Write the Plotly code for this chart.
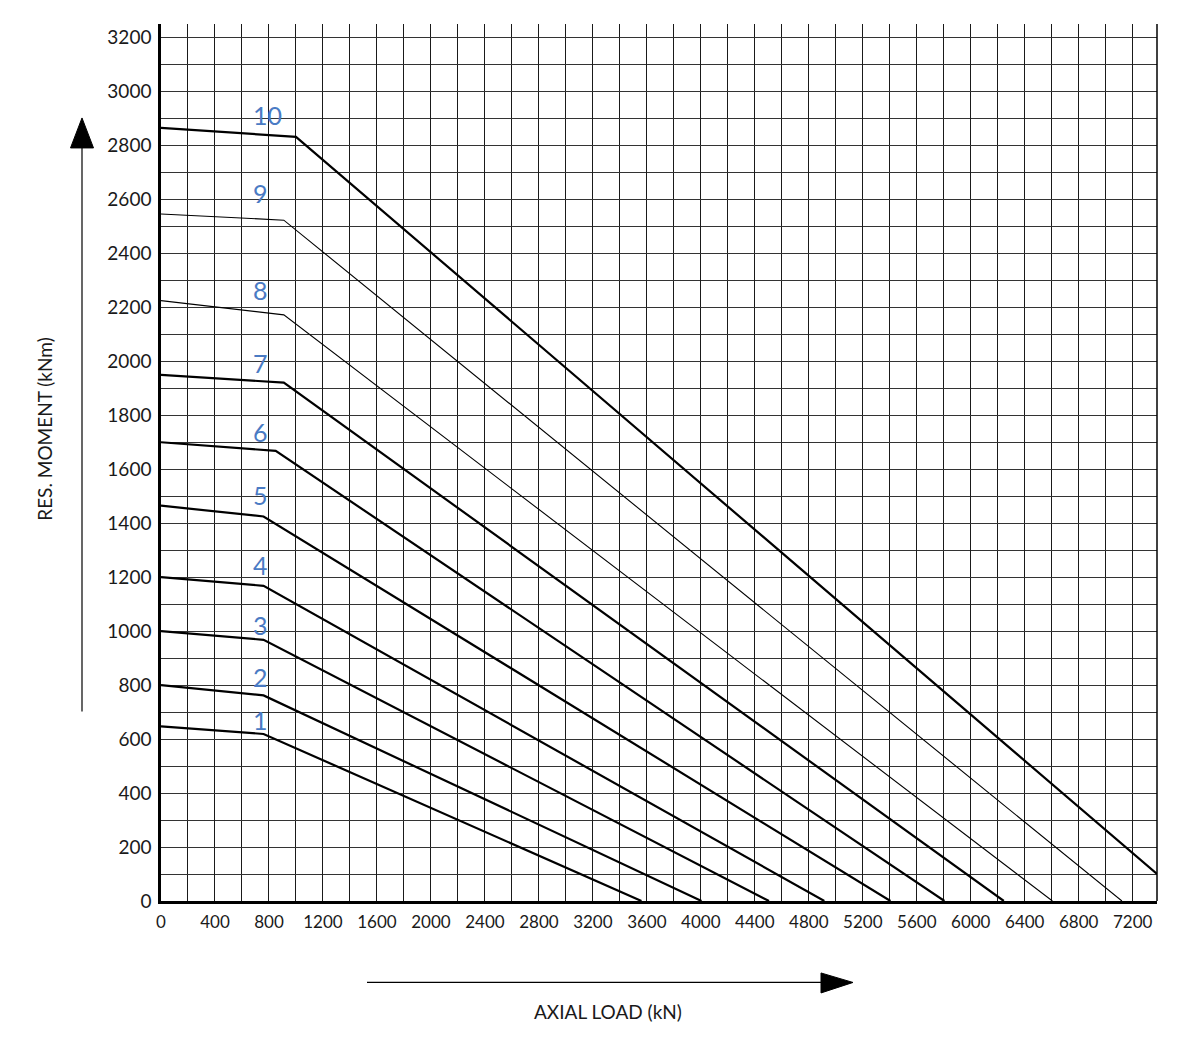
import plotly.graph_objects as go

# Kurven-Daten
curve_names = ["1", "2", "3", "4", "5", "6", "7", "8", "9", "10"]
start_moment = [647, 800, 1000, 1200, 1465, 1700, 1950, 2225, 2546, 2865]
knee_load = [760, 760, 760, 760, 760, 850, 910, 910, 910, 1000]
knee_moment = [619, 762, 968, 1168, 1425, 1668, 1921, 2172, 2523, 2832]
end_load = [3560, 4005, 4505, 4915, 5405, 5805, 6245, 6605, 7120, 7380]
end_moment = [0, 0, 0, 0, 0, 0, 0, 0, 0, 100]
line_widths = [2.2, 2.2, 2.2, 2.2, 2.2, 2.2, 2.2, 1.1, 1.1, 2.2]

# Beschriftungen der Kurven
label_load = [740, 740, 740, 740, 740, 740, 740, 740, 740, 790]
label_moment = [672, 831, 1024, 1246, 1505, 1739, 1994, 2265, 2624, 2913]

x_ticks = list(range(0, 7201, 400))
y_ticks = list(range(0, 3201, 200))

FONT = "Lato"
LABEL_BLUE = "#4a7bc4"

# Plotbereich in Pixel im Screenshot (Seite hat 8px Rand)
PAGE_OFF = 8
L, R, T, B = 161, 1157, 24, 901.5
W, H = 1194, 1060


def to_paper(px, py):
    return (px - L) / (R - L), (B - py) / (B - T)


fig = go.Figure()

for i in range(len(curve_names)):
    fig.add_trace(go.Scatter(
        x=[0, knee_load[i], end_load[i]],
        y=[start_moment[i], knee_moment[i], end_moment[i]],
        mode='lines', name=curve_names[i], showlegend=False,
        line=dict(color='black', width=line_widths[i])))

for name, lx, ly in zip(curve_names, label_load, label_moment):
    fig.add_annotation(x=lx, y=ly, xref='x', yref='y', text=name, showarrow=False,
                       font=dict(family=FONT, size=25, color=LABEL_BLUE))

# Pfeile
ax0, ay0 = to_paper(82, 712)
ax1, ay1 = to_paper(82, 146)
tip_x, tip_y = to_paper(82, 118)
bl_x, bl_y = to_paper(70.5, 148)
br_x, br_y = to_paper(93.5, 148)
fig.add_shape(type='line', xref='paper', yref='paper', x0=ax0, y0=ay0, x1=ax1, y1=ay1,
              line=dict(color='black', width=1.2))
fig.add_shape(type='path', xref='paper', yref='paper',
              path=f"M {tip_x} {tip_y} L {bl_x} {bl_y} L {br_x} {br_y} Z",
              fillcolor='black', line=dict(color='black', width=1))

hx0, hy0 = to_paper(367, 983)
hx1, hy1 = to_paper(824, 983)
htip_x, htip_y = to_paper(853, 983)
hb1_x, hb1_y = to_paper(821, 973.5)
hb2_x, hb2_y = to_paper(821, 993.5)
fig.add_shape(type='line', xref='paper', yref='paper', x0=hx0, y0=hy0, x1=hx1, y1=hy1,
              line=dict(color='black', width=1.2))
fig.add_shape(type='path', xref='paper', yref='paper',
              path=f"M {htip_x} {htip_y} L {hb1_x} {hb1_y} L {hb2_x} {hb2_y} Z",
              fillcolor='black', line=dict(color='black', width=1))

# rechter Rahmen
fig.add_shape(type='line', xref='paper', yref='paper', x0=1, y0=0, x1=1, y1=1,
              line=dict(color='black', width=1.5))

# Achsentitel
tx, ty = to_paper(608, 1012)
fig.add_annotation(x=tx, y=ty, xref='paper', yref='paper', text='AXIAL LOAD (kN)',
                   showarrow=False, xanchor='center', yanchor='middle',
                   font=dict(family=FONT, size=19, color='#1a1a1a'))
vx, vy = to_paper(45, 430)
fig.add_annotation(x=vx, y=vy, xref='paper', yref='paper', text='RES. MOMENT (kNm)',
                   showarrow=False, textangle=-90, xanchor='center', yanchor='middle',
                   font=dict(family=FONT, size=19, color='#1a1a1a'))

fig.update_layout(
    width=W, height=H,
    margin=dict(l=L - PAGE_OFF, r=W - R + PAGE_OFF, t=T - PAGE_OFF, b=H - B + PAGE_OFF),
    plot_bgcolor='white', paper_bgcolor='white',
    font=dict(family=FONT, color='#1a1a1a'),
    xaxis=dict(range=[0, 7380], tickmode='array', tickvals=x_ticks,
               ticktext=[str(t) for t in x_ticks],
               showgrid=True, gridcolor='#1a1a1a', gridwidth=1,
               minor=dict(dtick=200, tick0=0, showgrid=True, gridcolor='#1a1a1a', gridwidth=1),
               showline=True, linecolor='black', linewidth=2.5,
               zeroline=False, ticks='', ticklabelstandoff=4,
               tickfont=dict(family=FONT, size=17, color='#1a1a1a')),
    yaxis=dict(range=[0, 3250], tickmode='array', tickvals=y_ticks,
               ticktext=[str(t) for t in y_ticks],
               showgrid=True, gridcolor='#333', gridwidth=1,
               minor=dict(dtick=100, tick0=0, showgrid=True, gridcolor='#333', gridwidth=1),
               showline=True, linecolor='black', linewidth=2.5,
               zeroline=False, ticks='', ticklabelstandoff=3,
               tickfont=dict(family=FONT, size=19, color='#1a1a1a')),
)

fig.write_html("out.html")
